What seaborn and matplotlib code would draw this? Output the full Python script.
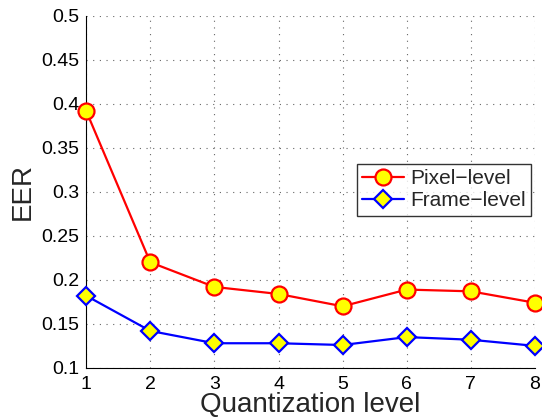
import numpy as np
import pandas as pd
import matplotlib
matplotlib.use("Agg")
import matplotlib.pyplot as plt
import seaborn as sns
from matplotlib.ticker import MultipleLocator

levels = [1, 2, 3, 4, 5, 6, 7, 8]
pixel_eer = [0.392, 0.220, 0.192, 0.184, 0.170, 0.189, 0.187, 0.174]
frame_eer = [0.182, 0.142, 0.128, 0.128, 0.126, 0.135, 0.132, 0.125]
y_ticks = [0.1, 0.15, 0.2, 0.25, 0.3, 0.35, 0.4, 0.45, 0.5]
y_tick_labels = ["0.1", "0.15", "0.2", "0.25", "0.3", "0.35", "0.4", "0.45", "0.5"]

sns.set_style("white")
plt.rcParams["font.family"] = ["Liberation Sans", "DejaVu Sans"]

df = pd.DataFrame({
    "level": levels * 2,
    "eer": pixel_eer + frame_eer,
    "method": ["Pixel\u2212level"] * 8 + ["Frame\u2212level"] * 8,
})

fig = plt.figure(figsize=(5.42, 4.19), dpi=100)
ax = fig.add_axes([0.159, 0.122, 0.828, 0.840])

sns.lineplot(data=df[df.method == "Pixel\u2212level"], x="level", y="eer", ax=ax,
             color="#ff0000", linewidth=1.6, marker="o", markersize=11.5,
             markerfacecolor="#ffff00", markeredgecolor="#ff0000",
             markeredgewidth=1.6, label="Pixel\u2212level", clip_on=False, zorder=3)
sns.lineplot(data=df[df.method == "Frame\u2212level"], x="level", y="eer", ax=ax,
             color="#0000ff", linewidth=1.6, marker="D", markersize=9,
             markerfacecolor="#ffff00", markeredgecolor="#0000ff",
             markeredgewidth=1.6, label="Frame\u2212level", clip_on=False, zorder=3)

ax.set_xlim(1, 8)
ax.set_ylim(0.1, 0.5)
ax.set_xticks(levels)
ax.set_yticks(y_ticks)
ax.set_yticklabels(y_tick_labels)
ax.xaxis.set_minor_locator(MultipleLocator(0.1))
ax.tick_params(axis="both", which="major", direction="in", length=4, width=0.8,
               labelsize=14, colors="black")
ax.tick_params(axis="x", which="major", pad=6)
ax.tick_params(axis="y", which="major", pad=5)
ax.tick_params(axis="x", which="minor", direction="in", length=1.5, width=0.6)
ax.grid(True, which="major", linestyle=(0, (1, 5)), color="#666666", linewidth=0.8)

for s in ["top", "right"]:
    ax.spines[s].set_visible(False)
for s in ["left", "bottom"]:
    ax.spines[s].set_color("black")
    ax.spines[s].set_linewidth(0.8)

ax.set_xlabel("Quantization level", fontsize=20)
ax.xaxis.label.set_verticalalignment("baseline")
ax.xaxis.set_label_coords(0.5, -0.125)
ax.set_ylabel("EER", fontsize=20, labelpad=4)

leg = ax.legend(loc="upper left", bbox_to_anchor=(357 / 542, 1 - 164 / 419),
                bbox_transform=fig.transFigure, fontsize=15, frameon=True,
                fancybox=False, edgecolor="black", borderpad=0.25,
                handlelength=2.0, handletextpad=0.3, labelspacing=0.15,
                borderaxespad=0)
leg.get_frame().set_linewidth(1.0)

fig.savefig("out.png", dpi=100)
